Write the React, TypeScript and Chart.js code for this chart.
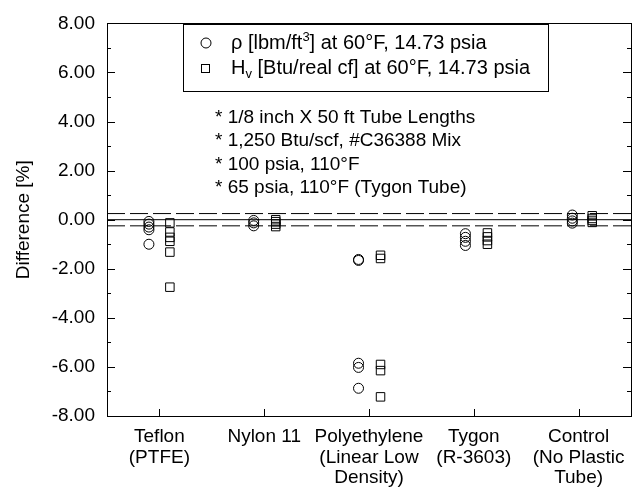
import React, { useEffect, useRef } from "react";
import { Chart, registerables } from "chart.js";

Chart.register(...registerables);

// ---------- data ----------
const categoryLabels: string[][] = [
  ["Teflon", "(PTFE)"],
  ["Nylon 11"],
  ["Polyethylene", "(Linear Low", "Density)"],
  ["Tygon", "(R-3603)"],
  ["Control", "(No Plastic", "Tube)"],
];
const categoryPositions = [1, 2, 3, 4, 5];

// x positions of each series within a category
const rhoX = [0.9, 1.9, 2.9, 3.92, 4.94];
const hvX = [1.1, 2.11, 3.11, 4.13, 5.13];

// ρ [lbm/ft3] differences (%)
const rhoTeflon = [-0.07, -0.18, -0.3, -0.41, -1.0];
const rhoNylon = [-0.03, -0.13, -0.25];
const rhoPolyethylene = [-1.62, -1.66, -5.85, -6.02, -6.87];
const rhoTygon = [-0.57, -0.72, -0.88, -1.05];
const rhoControl = [0.19, 0.06, -0.05, -0.14];

// Hv [Btu/real cf] differences (%)
const hvTeflon = [-0.13, -0.5, -0.72, -0.88, -1.32, -2.75];
const hvNylon = [0.0, -0.08, -0.18, -0.28];
const hvPolyethylene = [-1.45, -1.58, -5.9, -6.15, -7.22];
const hvTygon = [-0.54, -0.7, -0.85, -1.0];
const hvControl = [0.16, 0.05, -0.03, -0.11];

const rhoValues = [rhoTeflon, rhoNylon, rhoPolyethylene, rhoTygon, rhoControl];
const hvValues = [hvTeflon, hvNylon, hvPolyethylene, hvTygon, hvControl];

const zeroLine = [0];
const toleranceLines = [0.25, -0.25];
const xRange = [0.5, 5.5];
const yRange = [-8, 8];
const yStep = 2;

const legendLines = [
  { main: "ρ [lbm/ft", script: "3", scriptType: "sup", rest: "] at 60°F, 14.73 psia" },
  { main: "H", script: "v", scriptType: "sub", rest: " [Btu/real cf] at 60°F, 14.73 psia" },
];
const notes = [
  "* 1/8 inch X 50 ft Tube Lengths",
  "* 1,250 Btu/scf, #C36388 Mix",
  "* 100 psia, 110°F",
  "* 65 psia, 110°F (Tygon Tube)",
];

const FONT = "'Liberation Sans', Arial, Helvetica, sans-serif";

const framePlugin = {
  id: "frame",
  afterDatasetsDraw(chart: any) {
    const { ctx, chartArea: a, scales } = chart;
    const ys = scales.y;
    const xs = scales.x;
    ctx.save();
    ctx.strokeStyle = "#000";
    ctx.lineWidth = 1;
    // border
    ctx.strokeRect(Math.round(a.left) + 0.5, Math.round(a.top) + 0.5, Math.round(a.right - a.left), Math.round(a.bottom - a.top));
    // y ticks (inward on left & right)
    const tv: number[] = ys.ticks.map((t: any) => t.value);
    ctx.beginPath();
    tv.forEach((v, i) => {
      const py = Math.round(ys.getPixelForValue(v)) + 0.5;
      ctx.moveTo(a.left, py);
      ctx.lineTo(a.left + 8, py);
      ctx.moveTo(a.right, py);
      ctx.lineTo(a.right - 8, py);
      if (i < tv.length - 1) {
        const pm = Math.round(ys.getPixelForValue((v + tv[i + 1]) / 2)) + 0.5;
        ctx.moveTo(a.left, pm);
        ctx.lineTo(a.left + 4, pm);
        ctx.moveTo(a.right, pm);
        ctx.lineTo(a.right - 4, pm);
      }
    });
    // x ticks (inward on bottom)
    xs.ticks.forEach((t: any) => {
      const px = Math.round(xs.getPixelForValue(t.value)) + 0.5;
      ctx.moveTo(px, a.bottom);
      ctx.lineTo(px, a.bottom - 7);
    });
    ctx.stroke();

    // legend box
    ctx.strokeRect(183.5, 24.5, 365, 67);
    ctx.fillStyle = "#000";
    ctx.textBaseline = "middle";
    ctx.textAlign = "left";
    const lineY = [43, 68];
    // symbols
    ctx.beginPath();
    ctx.arc(206, lineY[0], 5, 0, Math.PI * 2);
    ctx.stroke();
    ctx.strokeRect(201.5, lineY[1] - 3.5, 8, 8);
    legendLines.forEach((l, i) => {
      const y = lineY[i];
      let x = 231;
      ctx.font = `20px ${FONT}`;
      ctx.fillText(l.main, x, y);
      x += ctx.measureText(l.main).width;
      ctx.font = `13px ${FONT}`;
      ctx.fillText(l.script, x, l.scriptType === "sup" ? y - 6 : y + 6);
      x += ctx.measureText(l.script).width;
      ctx.font = `20px ${FONT}`;
      ctx.fillText(l.rest, x, y);
    });
    // notes
    ctx.font = `19px ${FONT}`;
    const noteY = [118, 141, 165, 188];
    notes.forEach((n, i) => ctx.fillText(n, 215, noteY[i]));
    ctx.restore();
  },
};

function toPoints(xsArr: number[], vals: number[][]) {
  const out: { x: number; y: number }[] = [];
  vals.forEach((list, i) => list.forEach((y) => out.push({ x: xsArr[i], y })));
  return out;
}

export default function App() {
  const ref = useRef<HTMLCanvasElement | null>(null);
  useEffect(() => {
    document.body.style.margin = "0";
    const canvas = ref.current!;
    const hLine = (y: number, dash: number[]) => ({
      type: "line" as const,
      data: [
        { x: xRange[0], y },
        { x: xRange[1], y },
      ],
      borderColor: "#000",
      borderWidth: 1,
      borderDash: dash,
      pointRadius: 0,
      fill: false,
    });
    const chart = new Chart(canvas, {
      type: "scatter",
      data: {
        datasets: [
          ...zeroLine.map((y) => hLine(y, [])),
          ...toleranceLines.map((y) => hLine(y, [18, 5])),
          {
            type: "scatter",
            data: toPoints(rhoX, rhoValues),
            pointStyle: "circle",
            pointRadius: 5,
            borderColor: "#000",
            borderWidth: 1,
            backgroundColor: "rgba(0,0,0,0)",
          },
          {
            type: "scatter",
            data: toPoints(hvX, hvValues),
            pointStyle: "rect",
            pointRadius: 6,
            borderColor: "#000",
            borderWidth: 1,
            backgroundColor: "rgba(0,0,0,0)",
          },
        ] as any,
      },
      options: {
        responsive: false,
        animation: false,
        devicePixelRatio: 1,
        layout: { padding: { left: 0, right: 7, top: 21, bottom: 0 } },
        plugins: { legend: { display: false }, tooltip: { enabled: false } },
        scales: {
          x: {
            type: "linear",
            min: xRange[0],
            max: xRange[1],
            afterBuildTicks: (s: any) => {
              s.ticks = categoryPositions.map((v) => ({ value: v }));
            },
            afterFit: (s: any) => {
              s.height = 71;
            },
            ticks: {
              callback: (v: any) => {
                const i = categoryPositions.indexOf(Number(v));
                return i >= 0 ? categoryLabels[i] : "";
              },
              autoSkip: false,
              maxRotation: 0,
              color: "#000",
              padding: 10,
              font: { family: FONT, size: 19, lineHeight: 1.1 },
            },
            grid: { display: false, drawTicks: false },
            border: { display: false },
          },
          y: {
            min: yRange[0],
            max: yRange[1],
            afterFit: (s: any) => {
              s.width = 107;
            },
            ticks: {
              stepSize: yStep,
              callback: (v: any) => Number(v).toFixed(2),
              color: "#000",
              padding: 12,
              font: { family: FONT, size: 19 },
            },
            title: {
              display: true,
              text: "Difference [%]",
              color: "#000",
              font: { family: FONT, size: 19 },
              padding: { top: 12, bottom: 0 },
            },
            grid: { display: false, drawTicks: false },
            border: { display: false },
          },
        },
      } as any,
      plugins: [framePlugin],
    });
    return () => chart.destroy();
  }, []);
  return <canvas ref={ref} width={638} height={487} style={{ display: "block" }} />;
}
